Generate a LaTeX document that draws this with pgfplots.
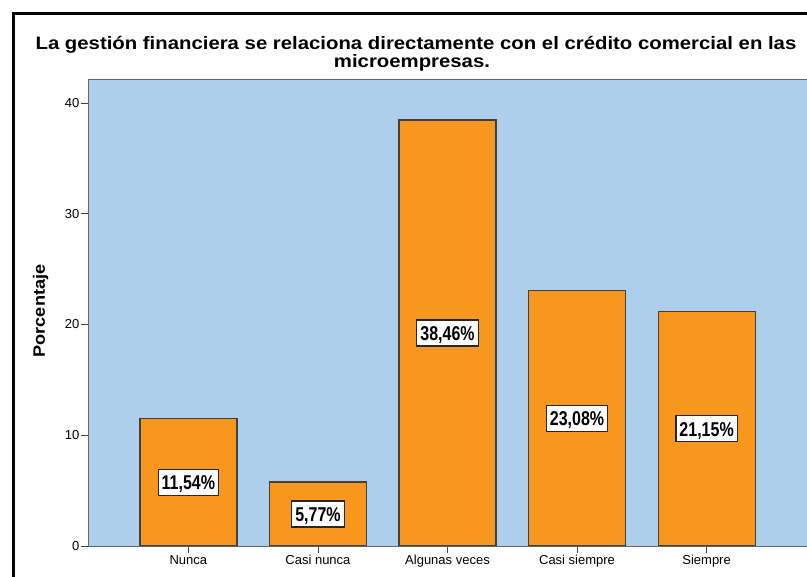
\documentclass[border=0pt]{standalone}
\usepackage{fontspec}
\setmainfont{Liberation Sans}
\newfontfamily\titlefont[FakeStretch=1.13]{Liberation Sans}
\newfontfamily\ylabfont[FakeStretch=1.1]{Liberation Sans}
\newfontfamily\labfont[FakeStretch=0.8]{Liberation Sans}
\usepackage{pgfplots}
\pgfplotsset{compat=1.18}
\definecolor{spssblue}{RGB}{174,207,236}
\definecolor{spssorange}{RGB}{247,151,30}
\begin{document}
\begin{tikzpicture}[x=1pt,y=1pt]
\useasboundingbox (0,0) rectangle (807,577);
% outer frame
\draw[line width=3pt,black] (13.5,0) -- (13.5,563.5) -- (810,563.5);
% title
\node[anchor=base,inner sep=0pt,font=\titlefont\bfseries\fontsize{18}{20}\selectfont] at (416,527) {La gestión financiera se relaciona directamente con el crédito comercial en las};
\node[anchor=base,inner sep=0pt,font=\titlefont\bfseries\fontsize{18}{20}\selectfont] at (412,509) {microempresas.};
% y label
\node[anchor=base,rotate=90,inner sep=0pt,font=\ylabfont\bfseries\fontsize{16.5}{18}\selectfont] at (45,266) {Porcentaje};
\begin{axis}[
  at={(88pt,31pt)}, anchor=south west,
  scale only axis, width=719pt, height=467pt,
  xmin=-0.775, xmax=4.775, ymin=0, ymax=42.17,
  axis background/.style={fill=spssblue},
  axis line style={draw=black!60, line width=0.8pt},
  tick pos=left, tick align=outside, major tick length=7pt,
  tick style={draw=black!75, line width=0.8pt},
  xtick=data,
  xticklabels={Nunca, Casi nunca, Algunas veces, Casi siempre, Siempre},
  ytick={0,10,20,30,40},
  /pgf/number format/assume math mode=true,
  ticklabel style={font=\fontsize{13}{15}\selectfont},
  yticklabel style={inner sep=1.5pt},
  xticklabel style={inner sep=2pt},
  ybar, bar width=97pt,
]
\addplot[ybar, bar width=97pt, fill=spssorange, draw=black!75, line width=1.2pt,
  visualization depends on={y \as \rawy},
  nodes near coords={\pgfmathprintnumber[fixed,fixed zerofill,precision=2,use comma]{\pgfplotspointmeta}\%},
  every node near coord/.append style={anchor=center, shift={(axis direction cs:0,-\rawy/2)},
    fill=white, draw=black!85, line width=1.1pt, inner xsep=3.5pt, inner ysep=5.5pt,
    text height=15pt, text depth=0pt,
    font=\labfont\bfseries\fontsize{20}{22}\selectfont}
] coordinates {(0,11.54) (1,5.77) (2,38.46) (3,23.08) (4,21.15)};
\end{axis}
\end{tikzpicture}
\end{document}
